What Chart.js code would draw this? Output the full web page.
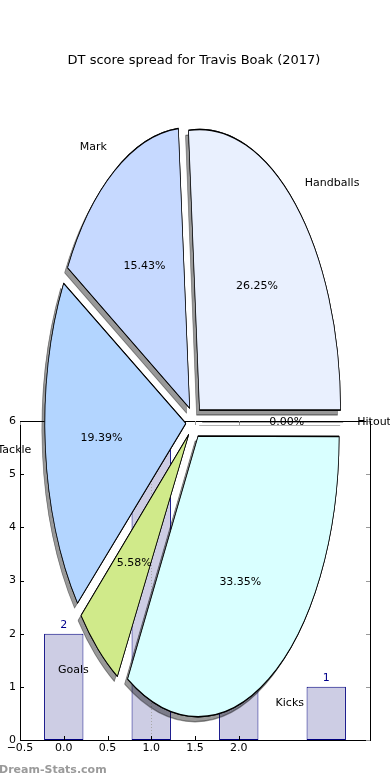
<!DOCTYPE html>
<html><head><meta charset="utf-8">
<script src="https://cdn.jsdelivr.net/npm/chart.js@4/dist/chart.umd.min.js"></script>
<style>
html,body{margin:0;padding:0;background:#fff;}
#wrap{position:relative;width:390px;height:780px;overflow:hidden;}
canvas{position:absolute;left:0;top:0;}
</style></head><body>
<div id="wrap"><canvas id="bars" width="390" height="780"></canvas><canvas id="pie" width="390" height="780"></canvas></div>
<script>
// ---------------- data ----------------
const titleText = 'DT score spread for Travis Boak (2017)';
const sliceLabels = ['Handballs', 'Mark', 'Tackle', 'Goals', 'Kicks', 'Hitout'];
const slicePercents = [26.25, 15.43, 19.39, 5.58, 33.35, 0.00];
const barPositions = [0, 1, 2, 3];
const barValues = [2, 6, 3, 1];
const barLabels = ['2', '6', '3', '1'];
const xTickValues = [-0.5, 0, 0.5, 1, 1.5, 2];
const yTickValues = [0, 1, 2, 3, 4, 5, 6];
const markerX = 1.0;
const watermark = 'Dream-Stats.com';

// ---------------- style ----------------
const FONT = "'DejaVu Sans', sans-serif";
const sliceColors = ['#e9f0fe', '#c6d9ff', '#b3d5ff', '#d0ea8a', '#d9ffff', '#ffffff'];
const R = 141;            // horizontal pie radius (px)
const K = 1.99;           // vertical stretch of the pie
const EXPLODE = 0.058;    // explode fraction
const OFFSET = 4 * EXPLODE * R; // Chart.js moves arcs by offset/4
const SHX = -3, SHY = 5;  // shadow offset

Chart.defaults.font.family = FONT;
Chart.defaults.color = '#000';

function fmtX(v) {
  return (v < 0 ? '\u2212' : '') + Math.abs(v).toFixed(1);
}

// ---------------- bar chart ----------------
const barExtras = {
  id: 'barExtras',
  afterDatasetsDraw(chart) {
    const {ctx, chartArea: a, scales: {x, y}} = chart;
    ctx.save();
    // dotted marker line
    ctx.strokeStyle = '#a8a8a8'; ctx.lineWidth = 1; ctx.setLineDash([1, 2]);
    const mx = Math.round(x.getPixelForValue(markerX)) + 0.5;
    ctx.beginPath(); ctx.moveTo(mx, a.top); ctx.lineTo(mx, a.bottom); ctx.stroke();
    ctx.setLineDash([]);
    // value labels
    const meta = chart.getDatasetMeta(0);
    ctx.fillStyle = '#00008b'; ctx.font = '11px ' + FONT;
    ctx.textAlign = 'center'; ctx.textBaseline = 'middle';
    meta.data.forEach((el, i) => ctx.fillText(barLabels[i], el.x, el.y - 9));
    // frame
    ctx.strokeStyle = '#000'; ctx.lineWidth = 1;
    ctx.strokeRect(a.left + 0.5, a.top + 0.5, a.right - a.left, a.bottom - a.top);
    // inward ticks
    xTickValues.forEach(v => {
      const px = Math.round(x.getPixelForValue(v)) + 0.5;
      ctx.strokeStyle = '#000';
      ctx.beginPath(); ctx.moveTo(px, a.bottom); ctx.lineTo(px, a.bottom - 4); ctx.stroke();
      ctx.strokeStyle = '#999';
      ctx.beginPath(); ctx.moveTo(px, a.top); ctx.lineTo(px, a.top + 4); ctx.stroke();
    });
    yTickValues.forEach(v => {
      const py = Math.round(y.getPixelForValue(v)) + 0.5;
      ctx.strokeStyle = '#000';
      ctx.beginPath(); ctx.moveTo(a.left, py); ctx.lineTo(a.left + 4, py); ctx.stroke();
      ctx.strokeStyle = '#999';
      ctx.beginPath(); ctx.moveTo(a.right, py); ctx.lineTo(a.right - 4, py); ctx.stroke();
    });
    // watermark
    ctx.fillStyle = '#9a9a9a'; ctx.font = 'bold 11px ' + FONT;
    ctx.textAlign = 'left'; ctx.textBaseline = 'middle';
    ctx.fillText(watermark, -1, 770);
    ctx.restore();
  }
};

new Chart(document.getElementById('bars'), {
  type: 'bar',
  data: {
    datasets: [{
      data: barPositions.map((p, i) => ({x: p, y: barValues[i]})),
      backgroundColor: '#cdcde4',
      borderColor: '#000080',
      borderWidth: 1,
      borderSkipped: false,
      barPercentage: 0.9,
      categoryPercentage: 1
    }]
  },
  options: {
    responsive: false, animation: false, devicePixelRatio: 1, events: [],
    layout: {padding: {top: 421, right: 20, left: 0, bottom: 0}},
    plugins: {legend: {display: false}, tooltip: {enabled: false}, title: {display: false}},
    scales: {
      x: {
        type: 'linear', min: -0.5, max: 3.5, offset: false,
        grid: {display: false, drawTicks: false}, border: {display: false},
        afterBuildTicks: s => { s.ticks = xTickValues.map(v => ({value: v})); },
        afterFit: s => { s.height = 40; },
        ticks: {padding: 2, font: {size: 11}, color: '#000', maxRotation: 0, autoSkip: false, callback: v => fmtX(v)}
      },
      y: {
        min: 0, max: 6,
        grid: {display: false, drawTicks: false}, border: {display: false},
        afterBuildTicks: s => { s.ticks = yTickValues.map(v => ({value: v})); },
        afterFit: s => { s.width = 20; },
        ticks: {padding: 4, font: {size: 11}, color: '#000', callback: v => String(v)}
      }
    }
  },
  plugins: [barExtras]
});

// ---------------- pie chart (stretched, exploded, shadowed) ----------------
const order = sliceLabels.map((_, i) => i).reverse();

const pieExtras = {
  id: 'pieExtras',
  afterDatasetUpdate(chart, args) {
    args.meta.data.forEach(el => {
      const fix = 1 - Math.sin(Math.min(Math.PI, el.circumference || 0));
      el.outerRadius = R - (OFFSET / 4) * fix;
    });
  },
  beforeDatasetsDraw(chart) {
    const ctx = chart.ctx;
    const meta = chart.getDatasetMeta(0);
    const c = meta.data[0];
    ctx.save();
    ctx.translate(c.x, c.y); ctx.scale(1, K); ctx.translate(-c.x, -c.y);
    // shadow pass
    ctx.save();
    ctx.shadowColor = 'rgba(0,0,0,0.4)';
    ctx.shadowOffsetX = SHX; ctx.shadowOffsetY = SHY; ctx.shadowBlur = 0;
    meta.data.forEach(el => el.draw(ctx));
    ctx.restore();
  },
  afterDatasetsDraw(chart) {
    const ctx = chart.ctx;
    ctx.restore();
    const meta = chart.getDatasetMeta(0);
    const o = OFFSET / 4;
    ctx.save();
    // zero-size wedges drawn as a line
    meta.data.forEach(el => {
      if (el.circumference > 0) return;
      const a = el.startAngle;
      const ex = el.x + o * Math.cos(a), ey = el.y + K * o * Math.sin(a);
      const fx = ex + R * Math.cos(a), fy = ey + K * R * Math.sin(a);
      ctx.lineWidth = 1;
      ctx.strokeStyle = 'rgba(0,0,0,0.3)';
      ctx.beginPath(); ctx.moveTo(ex + SHX, ey + SHY - 1.5); ctx.lineTo(fx + SHX, fy + SHY - 1.5); ctx.stroke();
      ctx.strokeStyle = 'rgba(0,0,0,0.35)';
      ctx.beginPath(); ctx.moveTo(ex, ey + 0.5); ctx.lineTo(fx, fy + 0.5); ctx.stroke();
    });
    // labels
    ctx.fillStyle = '#000'; ctx.font = '11px ' + FONT; ctx.textBaseline = 'middle';
    meta.data.forEach((el, j) => {
      const i = order[j];
      const a = (el.startAngle + el.endAngle) / 2;
      const cs = Math.cos(a), sn = Math.sin(a);
      const lr = o + 1.1 * R, pr = o + 0.6 * R;
      ctx.textAlign = cs > 1e-9 ? 'left' : 'right';
      ctx.fillText(sliceLabels[i], el.x + lr * cs, el.y + K * lr * sn);
      ctx.textAlign = 'center';
      ctx.fillText(slicePercents[i].toFixed(2) + '%', el.x + pr * cs, el.y + K * pr * sn);
    });
    ctx.restore();
  }
};

new Chart(document.getElementById('pie'), {
  type: 'pie',
  data: {
    labels: order.map(i => sliceLabels[i]),
    datasets: [{
      data: order.map(i => slicePercents[i]),
      backgroundColor: order.map(i => sliceColors[i]),
      borderColor: '#000',
      borderWidth: 0.7,
      offset: OFFSET,
      hoverOffset: 0,
      clip: false
    }]
  },
  options: {
    responsive: false, animation: false, devicePixelRatio: 1, events: [],
    rotation: 90,
    radius: R,
    layout: {padding: {top: 0, left: 0, right: 2, bottom: 4.6}},
    plugins: {
      legend: {display: false}, tooltip: {enabled: false},
      title: {display: true, text: titleText, color: '#000', font: {size: 13, weight: 'normal'}, padding: {top: 53, bottom: 0}}
    }
  },
  plugins: [pieExtras]
});
</script>
</body></html>
